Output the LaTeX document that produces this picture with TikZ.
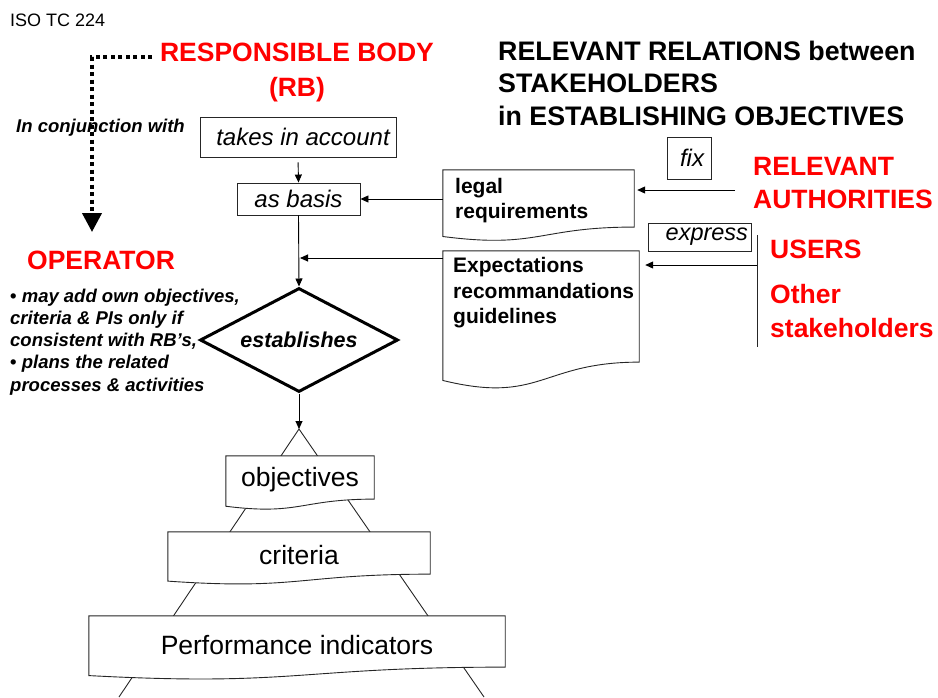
\documentclass[tikz,border=0pt]{standalone}
\usepackage{fontspec}
\setmainfont{Liberation Sans}
\usetikzlibrary{shapes.geometric,arrows.meta,calc}
\definecolor{hired}{RGB}{255,0,0}
\newcommand\setfs[2]{\fontsize{#1}{#2}\selectfont}
\newcommand\docpath[1]{%
  \filldraw[docline] (#1.north west) -- (#1.north east) --
  ($(#1.north east)!0.802!(#1.south east)$)
  .. controls ($(#1.north)!0.802!(#1.south)$) and ($(#1.north)!1.1075!(#1.south)$) ..
  ($(#1.north west)!0.934!(#1.south west)$) -- cycle;}
\begin{document}
\begin{tikzpicture}[x=1pt,y=-1pt,
  box/.style={draw=black!85, line width=0.9pt, inner sep=0pt, fill=white},
  docnode/.style={inner sep=0pt, draw=none},
  docline/.style={draw=black!85, line width=0.9pt, fill=white},
  arr/.style={-{Triangle[length=8pt,width=7pt]}, line width=0.9pt},
  dotarr/.style={line width=4pt, dash pattern=on 4pt off 3.5pt, -{Triangle[length=19pt,width=19pt]}},
  redtitle/.style={text=hired, font=\bfseries\setfs{26.5}{34}, inner sep=0pt},
  plain/.style={inner sep=0pt}]
\useasboundingbox (0,0) rectangle (938,697);

% header
\node[plain, anchor=west, font=\setfs{18}{22}] (iso) at (10,20) {ISO TC 224};
\node[redtitle, align=center, font=\bfseries\setfs{26.5}{35}] (rb) at (297,72) {RESPONSIBLE BODY\\(RB)};
\node[plain, anchor=west, align=left, font=\bfseries\setfs{26.8}{32.5}] (title) at (498,83)
  {RELEVANT RELATIONS between\\STAKEHOLDERS\\in ESTABLISHING OBJECTIVES};
\node[plain, anchor=west, font=\bfseries\itshape\setfs{18.5}{22}] (conj) at (16,128) {In conjunction with};

% central chain
\node[box, minimum width=196pt, minimum height=40pt, font=\itshape\setfs{24}{28}] (take) at (298,137) {\hspace*{10pt}takes in account};
\node[box, minimum width=123pt, minimum height=32pt, font=\itshape\setfs{24}{28}] (basis) at (298.5,199) {as basis};
\node[diamond, draw=black, line width=3pt, minimum width=198pt, minimum height=104pt, aspect=1.9, inner sep=0pt,
      font=\bfseries\itshape\setfs{21.5}{24}] (est) at (299,340) {establishes};
\coordinate (apex) at (299,429);
\coordinate (j) at (300,258);

% operator
\node[redtitle, anchor=west] (op) at (27,260) {OPERATOR};
\node[plain, anchor=west, align=left, font=\bfseries\setfs{18.5}{22.2}] (bul) at (10,342)
  {\textbullet\ \textit{may add own objectives,}\\\textit{criteria \& PIs only if}\\\textit{consistent with RB’s,}\\\textbullet\ \textit{plans the related}\\\textit{processes \& activities}};

% stakeholders
\node[box, minimum width=44pt, minimum height=42pt, font=\itshape\setfs{24}{28}] (fix) at (689,158) {\hspace*{6pt}fix};
\node[redtitle, anchor=west, align=left, font=\bfseries\setfs{26.5}{33}] (auth) at (753,183.5) {RELEVANT\\AUTHORITIES};
\node[box, minimum height=28pt, inner xsep=3pt, text width=97pt, align=right, font=\itshape\setfs{23.5}{26}] (express) at (699.5,237) {express};
\node[redtitle, anchor=west] (users) at (770,249) {USERS};
\node[redtitle, anchor=west, align=left, font=\bfseries\setfs{26.5}{34}] (other) at (770,311) {Other\\stakeholders};
\coordinate (bartop) at (757,235);
\coordinate (barbot) at (757,347);
\draw[line width=0.9pt, black!85] (bartop) -- (barbot);
\coordinate (barpt) at (757,265);
\coordinate (authsrc) at (735,190);

% documents
\node[docnode, minimum width=191pt, minimum height=71pt] (legal) at (538.5,205.5) {};
\docpath{legal}
\node[plain, anchor=west, align=left, font=\bfseries\setfs{21}{25}] (legaltxt) at (455,200.5) {legal\\requirements};
\node[docnode, minimum width=196pt, minimum height=138.4pt] (expect) at (541,320.2) {};
\docpath{expect}
\node[plain, anchor=west, align=left, font=\bfseries\setfs{21}{25.5}] (expecttxt) at (453,293) {Expectations\\recommandations\\guidelines};

% pyramid
\coordinate (pl) at (119,697);
\coordinate (pr) at (484,697);
\draw[line width=0.9pt, black!85] (pl) -- (apex) -- (pr);
\node[docnode, minimum width=148pt, minimum height=53.6pt] (obj) at (300,482.8) {};
\docpath{obj}
\node[plain, font=\setfs{26.5}{30}] (objtxt) at (300,480) {objectives};
\node[docnode, minimum width=262pt, minimum height=52.4pt] (crit) at (299,558.2) {};
\docpath{crit}
\node[plain, font=\setfs{26.5}{30}] (crittxt) at (299,555) {criteria};
\node[docnode, minimum width=416pt, minimum height=63.6pt] (pi) at (297,647.8) {};
\docpath{pi}
\node[plain, font=\setfs{26.5}{30}] (pitxt) at (297,645) {Performance indicators};

% connectors
\draw[arr, shorten <=5pt] (take.south) -- (basis.north);
\draw[arr] (basis.south) -- (est.north);
\draw[arr] (legal.west |- basis.east) -- (basis.east);
\draw[arr] (expect.west |- j) -- (j);
\draw[arr, shorten >=3pt] (authsrc) -- (legal.east |- authsrc);
\draw[arr, shorten >=6pt] (barpt) -- (expect.east |- barpt);
\draw[arr] (est.south) -- (apex);
\coordinate (rbl) at (152,57);
\coordinate (opin) at (92,232);
\draw[dotarr] (rbl) -| (opin);
\end{tikzpicture}
\end{document}
